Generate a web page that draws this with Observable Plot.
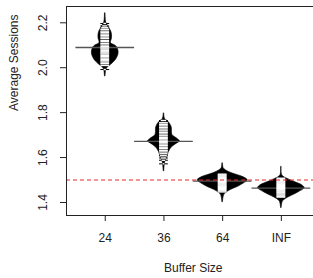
<!DOCTYPE html>
<html>
<head>
<meta charset="utf-8">
<script src="https://cdn.jsdelivr.net/npm/d3@7"></script>
<script src="https://cdn.jsdelivr.net/npm/@observablehq/plot@0.6"></script>
<style>
  html, body { margin: 0; padding: 0; background: #fff; }
  svg { display: block; }
</style>
</head>
<body>
<div id="chart"></div>
<script>
// ---- data ----
const groups = ["24", "36", "64", "INF"];
const yTicks = [1.4, 1.6, 1.8, 2.0, 2.2];
const means = [2.09, 1.672, 1.495, 1.464];
const referenceLine = 1.5;
const xTitle = "Buffer Size";
const yTitle = "Average Sessions";

// bean outlines: [value, half-width of bean (density, in group units)]
const bean24 = [[2.241,0.005],[2.201,0.017],[2.188,0.043],[2.175,0.073],[2.161,0.102],[2.143,0.116],[2.126,0.111],[2.115,0.097],[2.108,0.102],[2.099,0.170],[2.090,0.204],[2.072,0.227],[2.055,0.221],[2.037,0.187],[2.024,0.145],[2.010,0.085],[2.001,0.043],[1.992,0.020],[1.961,0.005]];
const bean36 = [[1.795,0.005],[1.773,0.017],[1.758,0.080],[1.743,0.119],[1.729,0.136],[1.714,0.136],[1.699,0.148],[1.684,0.227],[1.672,0.273],[1.662,0.221],[1.647,0.141],[1.625,0.085],[1.602,0.056],[1.588,0.034],[1.575,0.017],[1.539,0.005]];
const bean64 = [[1.573,0.005],[1.552,0.017],[1.544,0.051],[1.529,0.170],[1.514,0.341],[1.499,0.426],[1.484,0.358],[1.469,0.256],[1.455,0.136],[1.444,0.068],[1.432,0.026],[1.401,0.005]];
const beanINF = [[1.557,0.005],[1.520,0.017],[1.505,0.107],[1.490,0.239],[1.476,0.358],[1.464,0.397],[1.446,0.298],[1.431,0.187],[1.416,0.077],[1.404,0.026],[1.375,0.005]];

// individual observations (bean lines)
const obs24 = [2.197,2.186,2.178,2.171,2.163,2.157,2.150,2.144,2.137,2.131,2.122,2.116,2.108,2.101,2.094,2.088,2.083,2.077,2.071,2.066,2.061,2.055,2.049,2.043,2.037,2.031,2.025,2.018,2.010,1.992];
const obs36 = [1.765,1.755,1.748,1.741,1.734,1.727,1.719,1.712,1.705,1.697,1.690,1.684,1.678,1.672,1.666,1.660,1.653,1.646,1.640,1.632,1.625,1.617,1.608,1.598,1.588,1.572];
const obs64 = [1.526,1.522,1.518,1.514,1.510,1.506,1.502,1.498,1.494,1.490,1.486,1.482,1.478,1.474,1.470,1.466,1.462,1.457,1.452,1.447];
const obsINF = [1.508,1.503,1.499,1.495,1.491,1.487,1.483,1.479,1.475,1.471,1.467,1.463,1.459,1.455,1.451,1.447,1.443,1.438,1.433,1.428,1.424];

// ---- build tables ----
const beans = [bean24, bean36, bean64, beanINF];
const obsAll = [obs24, obs36, obs64, obsINF];
const outline = beans.flatMap((b, i) => b.map(([v, w]) => ({g: i + 1, v, w})));
function widthAt(i, v) {
  const b = beans[i];
  for (let k = 0; k < b.length - 1; k++) {
    const [v0, w0] = b[k], [v1, w1] = b[k + 1];
    if (v <= v0 && v >= v1) return w0 + (w1 - w0) * (v - v0) / (v1 - v0);
  }
  return 0;
}
const lineHalf = 0.075;
const lines = obsAll.flatMap((o, i) => o.map(v => ({g: i + 1, v, w: Math.min(lineHalf, widthAt(i, v) * 0.92)})));
const meanRows = means.map((m, i) => ({g: i + 1, v: m}));

const xDom = [0.34, 4.66];
const yDom = [1.342, 2.2726];
const font = "'Liberation Sans', Arial, Helvetica, sans-serif";

const chart = Plot.plot({
  width: 313,
  height: 278,
  marginLeft: 66,
  marginRight: 0,
  marginTop: 6,
  marginBottom: 63,
  x: {domain: xDom, range: [66, 319.6]},
  y: {domain: yDom, range: [215, 6]},
  style: {fontFamily: font, fontSize: "12px", background: "#fff", color: "#222"},
  marks: [
    Plot.ruleY(lines, {y: "v", x1: d => d.g - lineHalf, x2: d => d.g + lineHalf, stroke: "#000", strokeWidth: 1}),
    Plot.areaX(outline, {y: "v", x1: d => d.g - d.w, x2: d => d.g + d.w, z: "g", fill: "#000", stroke: "#000", strokeWidth: 0.6, curve: "catmull-rom"}),
    Plot.ruleY(meanRows, {y: "v", x1: d => d.g - 0.5, x2: d => d.g + 0.5, stroke: "#555", strokeWidth: 1.3}),
    Plot.ruleY(lines, {y: "v", x1: d => d.g - d.w, x2: d => d.g + d.w, stroke: "#fff", strokeWidth: 1.4}),
    Plot.ruleY([referenceLine], {x1: xDom[0], x2: xDom[1], stroke: "#e8282a", strokeWidth: 1, strokeDasharray: "4,3"}),
    // frame
    Plot.ruleX([xDom[0]], {y1: yDom[0], y2: yDom[1], stroke: "#222"}),
    Plot.ruleY(yDom, {x1: xDom[0], x2: xDom[1], stroke: "#222"}),
    Plot.axisY({ticks: yTicks, tickFormat: d => d.toFixed(1), tickSize: 6, tickRotate: -90, tickPadding: 14, label: null, fontSize: 12}),
    Plot.axisX({ticks: [1, 2, 3, 4], tickFormat: d => groups[d - 1], tickSize: 6, tickPadding: 12, label: null, fontSize: 12}),
    Plot.text([yTitle], {frameAnchor: "left", dx: -52, rotate: -90, fontSize: 12, fill: "#222"}),
    Plot.text([xTitle], {x: () => 2.5, y: () => yDom[0], dy: 53, fontSize: 12, fill: "#222"})
  ]
});
document.getElementById("chart").appendChild(chart);
</script>
</body>
</html>
